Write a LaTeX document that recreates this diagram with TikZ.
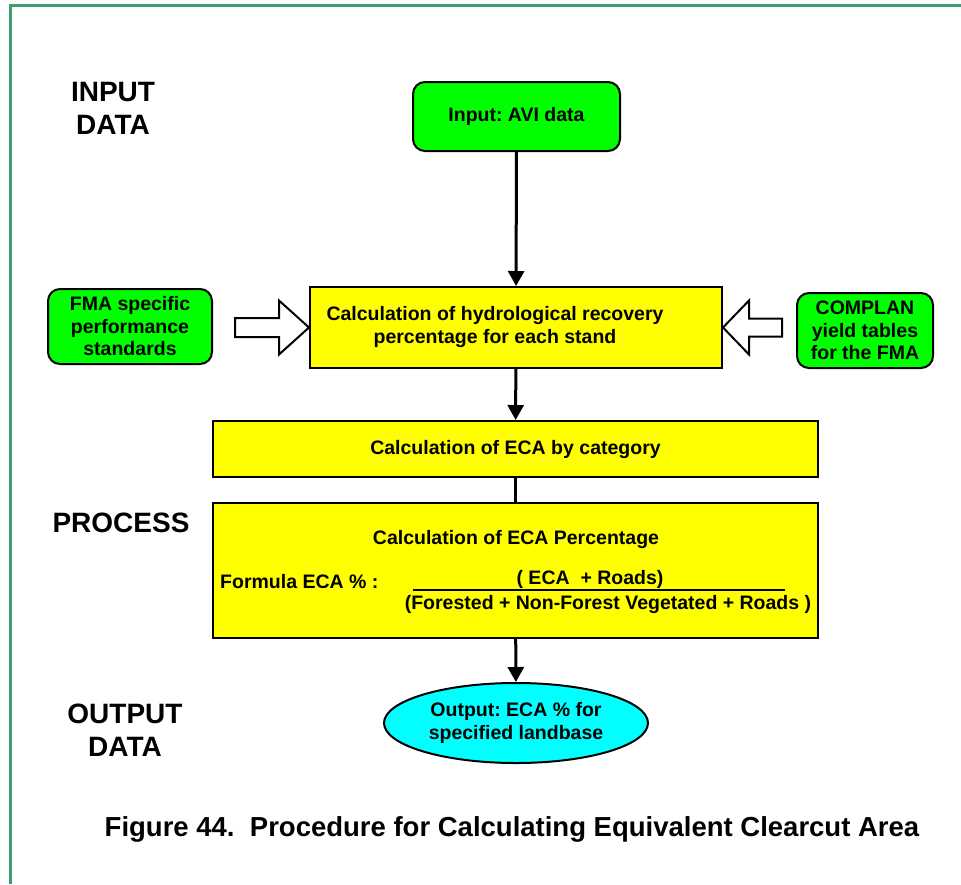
\documentclass[tikz,border=0pt]{standalone}
\usepackage{fontspec}
\setmainfont{Liberation Sans}
\usetikzlibrary{shapes.geometric,arrows.meta}
\definecolor{framegreen}{RGB}{56,158,108}
\definecolor{boxgreen}{RGB}{0,255,0}
\definecolor{boxyellow}{RGB}{255,255,0}
\definecolor{boxcyan}{RGB}{0,255,255}
\frenchspacing

\begin{document}
\begin{tikzpicture}[x=1pt,y=-1pt,>={Triangle[length=15pt,width=16pt]},
  txt/.style={font=\fontsize{19.5}{22.5}\selectfont\bfseries,align=center,inner sep=0pt},
  head/.style={font=\fontsize{28}{33}\selectfont\bfseries,align=center,inner sep=0pt},
  rbox/.style={txt,draw=black,line width=2pt,rounded corners=12pt,fill=boxgreen},
  ybox/.style={txt,draw=black,line width=2pt,fill=boxyellow},
  hollow/.style={draw=black,line width=2pt,fill=white,line join=miter},
  link/.style={line width=3pt}]

\useasboundingbox (0,0) rectangle (961,884);
\draw [framegreen,line width=3pt] (10.5,884) -- (10.5,5.5) -- (961,5.5);

% side labels
\node [head] (lin)  at (113,108) {INPUT\\DATA};
\node [head] (lpr)  at (121,523) {PROCESS};
\node [head] (lout) at (125,730) {OUTPUT\\DATA};

% input and stand recovery
\node [rbox,minimum width=207pt,minimum height=69pt] (avi) at (516.5,116.5) {Input: AVI data};
\node [ybox,minimum width=412pt,minimum height=81pt] (hyd) at (516,327.5) {};
\node [txt] (hydtxt) at (495,327) {Calculation of hydrological recovery\\percentage for each stand};

\node [rbox,minimum width=164pt,minimum height=75pt] (fma) at (130,326.5) {FMA specific\\performance\\standards};
\node [rbox,minimum width=136pt,minimum height=75pt] (cpl) at (865,330.5) {COMPLAN\\yield tables\\for the FMA};

\draw [hollow] (hyd.west) -- ++(-30,-27) -- ++(0,17.5) -- ++(-44,0) -- ++(0,19) -- ++(44,0) -- ++(0,17.5) -- cycle;
\draw [hollow] (hyd.east) -- ++(26,-27) -- ++(0,18) -- ++(33,0) -- ++(0,18) -- ++(-33,0) -- ++(0,18) -- cycle;

% ECA
\node [ybox,minimum width=605pt,minimum height=56pt] (cat) at (515.5,449) {Calculation of ECA by category};
\node [ybox,minimum width=605pt,minimum height=135pt] (pct) at (515.5,570.5) {};
\node [txt] (pcttl) at (516,539) {Calculation of ECA Percentage};
\node [txt,anchor=west] (frm) at (220,582) {Formula ECA \% :};
\node [txt] (num) at (590,579) {( ECA\ \ + Roads)};
\node [txt] (den) at (608,604) {(Forested + Non-Forest Vegetated + Roads )};
\coordinate (fl) at (413,590);
\coordinate (fr) at (785,590);
\draw [line width=1.5pt] (fl) -- (fr);

% output
\node [txt,ellipse,draw=black,line width=2pt,fill=boxcyan,minimum width=264pt,minimum height=80pt] (out) at (516,723) {Output: ECA \% for\\specified landbase};

\path [->,link]
  (avi) edge (hyd)
  (hyd) edge (cat)
  (pct) edge (out)
;
\draw [link] (cat) -- (pct);

\node [font=\fontsize{27.5}{32}\selectfont\bfseries,inner sep=0pt] (cap) at (512,829) {Figure 44.\ \ Procedure for Calculating Equivalent Clearcut Area};

\end{tikzpicture}
\end{document}
